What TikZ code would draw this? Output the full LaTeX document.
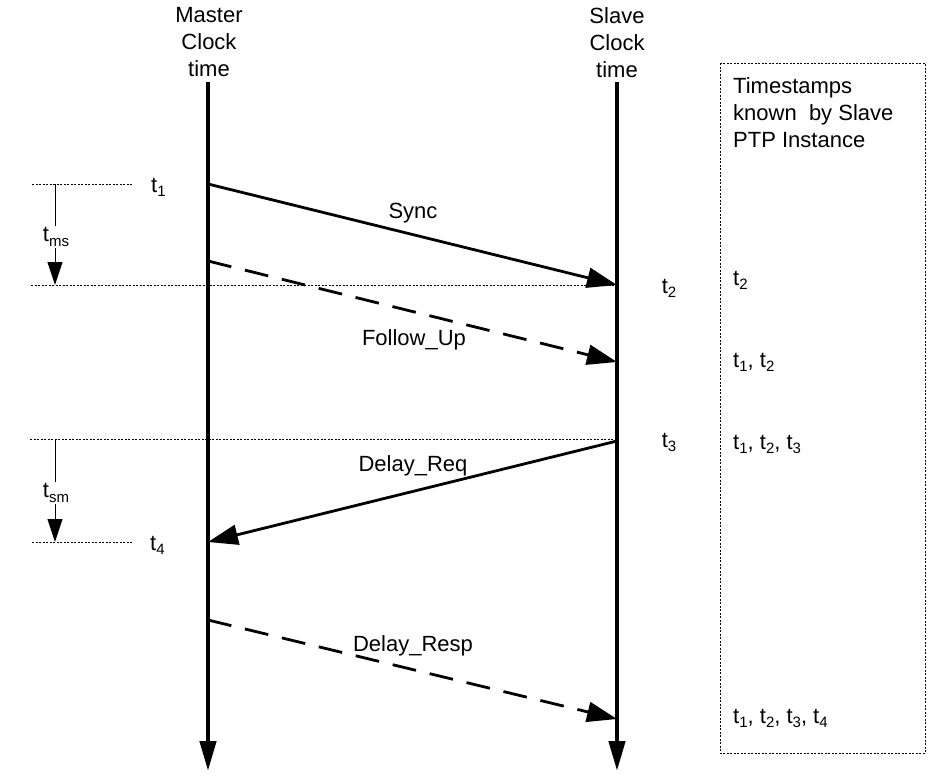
\documentclass[tikz,border=0pt]{standalone}
\usepackage{fontspec}
\setmainfont{Liberation Sans}
\usetikzlibrary{arrows.meta}
\newcommand{\tsub}[1]{\raisebox{-0.22em}{\fontsize{15}{15}\selectfont #1}}

\begin{document}
\begin{tikzpicture}[x=1pt,y=-1pt,
		font=\fontsize{22}{27}\selectfont,
		timeline/.style={line width=4.5pt,-{Triangle[length=30pt,width=16pt]}},
		msg/.style={line width=2.8pt,-{Triangle[length=30pt,width=20pt]}},
		msgdash/.style={msg,dash pattern=on 24pt off 14pt},
		guide/.style={line width=0.9pt,dash pattern=on 2pt off 1.5pt},
		gap/.style={line width=1pt,-{Triangle[length=23pt,width=15pt]}},
		lbl/.style={inner sep=0pt,anchor=base}]
		\useasboundingbox (0,0) rectangle (944,779);
		
		% time lines
		\node[inner sep=0pt,anchor=north,align=center] (master) at (209,7) {Master\\Clock\\time};
		\node[inner sep=0pt,anchor=north,align=center] (slave) at (617,7) {Slave\\Clock\\time};
		\coordinate (mtop) at (208,82);
		\coordinate (mbot) at (208,771);
		\coordinate (stop) at (617,82);
		\coordinate (sbot) at (617,771);
		\draw[timeline] (mtop)--(mbot);
		\draw[timeline] (stop)--(sbot);
		
		% message points
		\coordinate (syncA) at (208,184);
		\coordinate (syncB) at (617,285);
		\coordinate (fupA) at (208,261);
		\coordinate (fupB) at (617,362);
		\coordinate (dreqA) at (617,441);
		\coordinate (dreqB) at (208,542);
		\coordinate (drespA) at (208,620);
		\coordinate (drespB) at (617,719);
		
		\draw[msg] (syncA)--(syncB);
		\draw[msgdash] (fupA)--(fupB);
		\draw[msg] (dreqA)--(dreqB);
		\draw[msgdash] (drespA)--(drespB);
		
		\node[lbl] (sync) at (413,218) {Sync};
		\node[lbl] (fup) at (414,345) {Follow\_Up};
		\node[lbl] (dreq) at (413,471) {Delay\_Req};
		\node[lbl] (dresp) at (413,651) {Delay\_Resp};
		
		% dotted guides
		\coordinate (g1a) at (32,184);
		\coordinate (g1b) at (133,184);
		\coordinate (g2a) at (31,285);
		\coordinate (g3a) at (30,439);
		\coordinate (g4a) at (32,542);
		\coordinate (g4b) at (133,542);
		\draw[guide] (g1a)--(g1b);
		\draw[guide] (g2a)--(syncB);
		\draw[guide] (g3a)--(617,439);
		\draw[guide] (g4a)--(g4b);
		
		% residence times
		\node[inner sep=1pt] (tms) at (56,237) {t\tsub{ms}};
		\node[inner sep=1pt] (tsm) at (56,493) {t\tsub{sm}};
		\coordinate (ms1) at (55,184);
		\coordinate (ms2) at (55,285);
		\coordinate (sm1) at (55,439);
		\coordinate (sm2) at (55,542);
		\draw[line width=1pt] (ms1)--(tms.north-|ms1);
		\draw[gap] (tms.south-|ms2)--(ms2);
		\draw[line width=1pt] (sm1)--(tsm.north-|sm1);
		\draw[gap] (tsm.south-|sm2)--(sm2);
		
		% timestamps
		\node[lbl,anchor=base west] (t1) at (151,192) {t\tsub{1}};
		\node[lbl,anchor=base west] (t4) at (150,550) {t\tsub{4}};
		\node[lbl] (t2) at (669,293) {t\tsub{2}};
		\node[lbl] (t3) at (669,447) {t\tsub{3}};
		
		% slave knowledge
		\draw[guide] (720,63) rectangle (925,753);
		\node[inner sep=0pt,anchor=north west,align=left] (known) at (733,77) {Timestamps\\known\ \ by Slave\\PTP Instance};
		\node[lbl,anchor=base west] (k1) at (733,285) {t\tsub{2}};
		\node[lbl,anchor=base west] (k2) at (733,367) {t\tsub{1}, t\tsub{2}};
		\node[lbl,anchor=base west] (k3) at (733,449) {t\tsub{1}, t\tsub{2}, t\tsub{3}};
		\node[lbl,anchor=base west] (k4) at (733,723) {t\tsub{1}, t\tsub{2}, t\tsub{3}, t\tsub{4}};
	\end{tikzpicture}
\end{document}
